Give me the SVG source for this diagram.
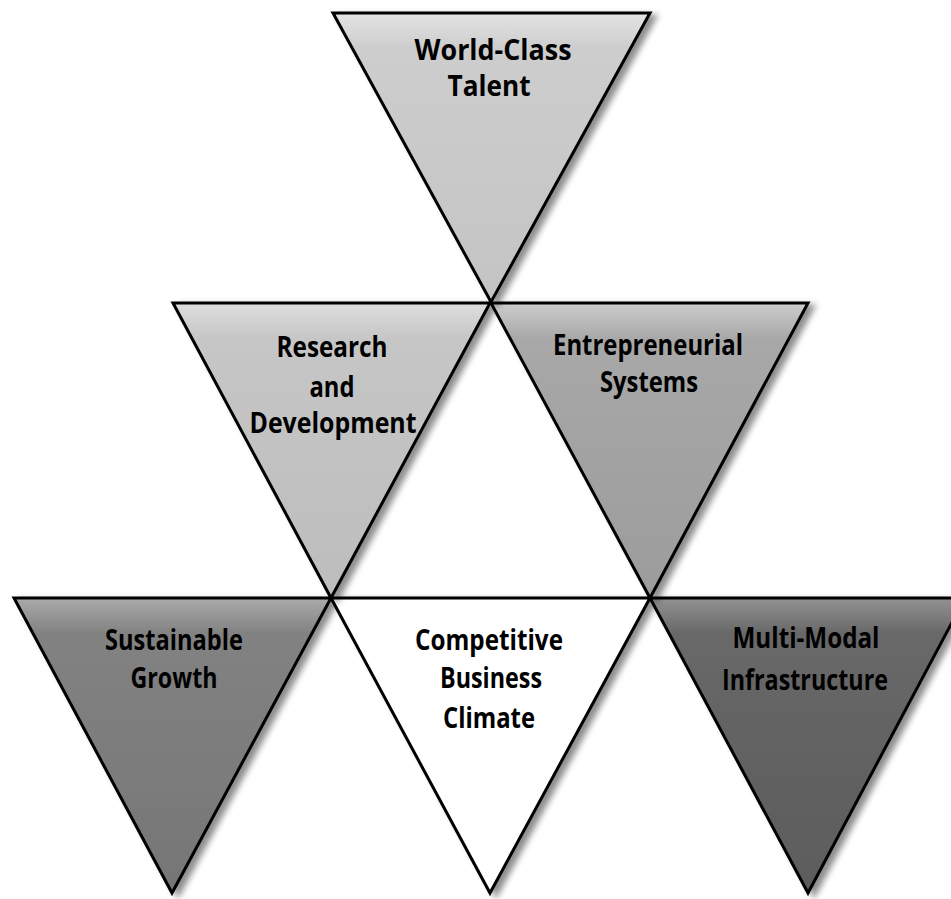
<svg xmlns="http://www.w3.org/2000/svg" width="951" height="899" viewBox="0 0 951 899">
  <style>
    .tri { stroke: #000; stroke-width: 3; stroke-linejoin: miter; filter: url(#shade); }
    .lbl { font-family: "Open Sans", "Liberation Sans", sans-serif; font-weight: bold; font-size: 28px; fill: #000; text-anchor: middle; }
  </style>
  <defs>
    <filter id="shade" x="-10%" y="-10%" width="125%" height="125%">
      <feGaussianBlur in="SourceAlpha" stdDeviation="3"/>
      <feOffset dx="6" dy="3" result="b"/>
      <feComponentTransfer><feFuncA type="linear" slope="0.45"/></feComponentTransfer>
      <feMerge><feMergeNode/><feMergeNode in="SourceGraphic"/></feMerge>
    </filter>
    <linearGradient id="g1" x1="0" y1="0" x2="0" y2="1">
      <stop offset="0" stop-color="#e4e4e4"/><stop offset="0.12" stop-color="#cdcdcd"/><stop offset="1" stop-color="#c4c4c4"/>
    </linearGradient>
    <linearGradient id="g2" x1="0" y1="0" x2="0" y2="1">
      <stop offset="0" stop-color="#dedede"/><stop offset="0.12" stop-color="#c6c6c6"/><stop offset="1" stop-color="#bdbdbd"/>
    </linearGradient>
    <linearGradient id="g3" x1="0" y1="0" x2="0" y2="1">
      <stop offset="0" stop-color="#cdcdcd"/><stop offset="0.12" stop-color="#a8a8a8"/><stop offset="1" stop-color="#9c9c9c"/>
    </linearGradient>
    <linearGradient id="g4" x1="0" y1="0" x2="0" y2="1">
      <stop offset="0" stop-color="#aaa"/><stop offset="0.12" stop-color="#828282"/><stop offset="1" stop-color="#767676"/>
    </linearGradient>
    <linearGradient id="g5" x1="0" y1="0" x2="0" y2="1">
      <stop offset="0" stop-color="#fff"/><stop offset="1" stop-color="#fff"/>
    </linearGradient>
    <linearGradient id="g6" x1="0" y1="0" x2="0" y2="1">
      <stop offset="0" stop-color="#929292"/><stop offset="0.12" stop-color="#686868"/><stop offset="1" stop-color="#5c5c5c"/>
    </linearGradient>
  </defs>

  <rect width="951" height="899" fill="#fff"/>

  <!-- bottom row -->
  <g id="sustainable-growth">
    <polygon class="tri" points="14,598 331,598 172,893" fill="url(#g4)"/>
    <text class="lbl" x="174" y="650" textLength="138" lengthAdjust="spacingAndGlyphs">Sustainable</text>
    <text class="lbl" x="174" y="688" textLength="87" lengthAdjust="spacingAndGlyphs">Growth</text>
  </g>
  <g id="competitive-business-climate">
    <polygon class="tri" points="331,598 650,598 490,893" fill="url(#g5)"/>
    <text class="lbl" x="489" y="650" textLength="148" lengthAdjust="spacingAndGlyphs">Competitive</text>
    <text class="lbl" x="491" y="688" textLength="102" lengthAdjust="spacingAndGlyphs">Business</text>
    <text class="lbl" x="489" y="728" textLength="92" lengthAdjust="spacingAndGlyphs">Climate</text>
  </g>
  <g id="multi-modal-infrastructure">
    <polygon class="tri" points="650,598 965,598 808,893" fill="url(#g6)"/>
    <text class="lbl" x="806" y="648" textLength="147" lengthAdjust="spacingAndGlyphs">Multi-Modal</text>
    <text class="lbl" x="805" y="690" textLength="166" lengthAdjust="spacingAndGlyphs">Infrastructure</text>
  </g>

  <!-- middle row -->
  <g id="research-and-development">
    <polygon class="tri" points="173,303 490,303 331,598" fill="url(#g2)"/>
    <text class="lbl" x="332" y="357" textLength="111" lengthAdjust="spacingAndGlyphs">Research</text>
    <text class="lbl" x="332" y="397" textLength="45" lengthAdjust="spacingAndGlyphs">and</text>
    <text class="lbl" x="333" y="433" textLength="167" lengthAdjust="spacingAndGlyphs">Development</text>
  </g>
  <g id="entrepreneurial-systems">
    <polygon class="tri" points="491,303 808,303 650,598" fill="url(#g3)"/>
    <text class="lbl" x="648" y="355" textLength="190" lengthAdjust="spacingAndGlyphs">Entrepreneurial</text>
    <text class="lbl" x="649" y="392" textLength="98" lengthAdjust="spacingAndGlyphs">Systems</text>
  </g>

  <!-- top row -->
  <g id="world-class-talent">
    <polygon class="tri" points="333,13 650,13 491,302" fill="url(#g1)"/>
    <text class="lbl" x="493" y="60" textLength="157" lengthAdjust="spacingAndGlyphs">World-Class</text>
    <text class="lbl" x="489" y="96" textLength="83" lengthAdjust="spacingAndGlyphs">Talent</text>
  </g>
</svg>
